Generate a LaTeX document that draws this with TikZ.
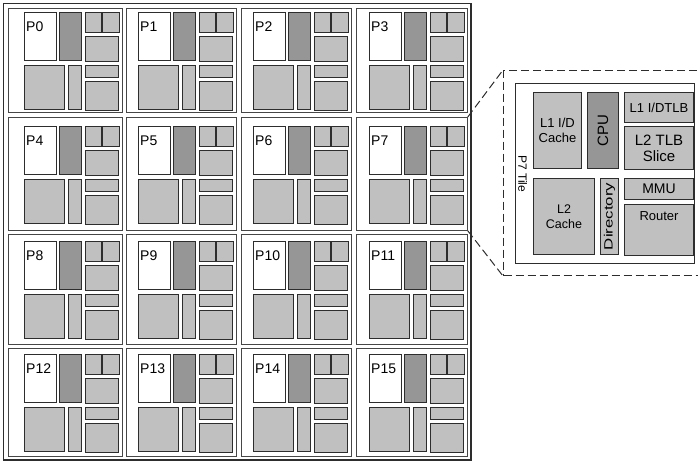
\documentclass[tikz,border=0pt]{standalone}
\usepackage{fontspec}
\setmainfont{Liberation Sans}
\usepackage{graphicx}
\usepackage{tikz}
\usetikzlibrary{positioning}
\definecolor{blockgray}{RGB}{192,192,192}
\definecolor{coregray}{RGB}{150,150,150}
\definecolor{edgegray}{RGB}{45,45,45}
\definecolor{framegray}{RGB}{70,70,70}

\begin{document}
\begin{tikzpicture}[x=1pt, y=-1pt,
    chip/.style={draw=edgegray, line width=1.5pt, inner sep=0pt, anchor=north west,
                 minimum width=467.5pt, minimum height=456.5pt},
    tile/.style={draw=framegray, line width=0.8pt, inner sep=0pt, anchor=north west},
    sz/.style 2 args={minimum width=#1pt, minimum height=#2pt},
    blk/.style={draw=edgegray, line width=1pt, fill=#1, inner sep=0pt, align=center},
    blk/.default=blockgray,
    core/.style={blk=coregray},
    plabel/.style={font=\fontsize{14}{16}\selectfont, inner sep=1pt},
    zoom/.style={draw=edgegray, line width=1pt, dash pattern=on 8pt off 4pt,
                 inner sep=0pt, anchor=north west},
    zoomline/.style={draw=edgegray, line width=1pt, dash pattern=on 8pt off 4pt},
    bigtile/.style={draw=edgegray, line width=1.2pt, fill=white, inner sep=0pt, anchor=north west}
]
\useasboundingbox (0,0) rectangle (698,461);

% ---- Chip with 16 tiles ----
\node[chip] (chip) at (2.5,2.5) {};
\foreach \n in {0,...,15}{
  \pgfmathsetmacro{\tx}{{8,126,241,356}[mod(\n,4)]}
  \pgfmathsetmacro{\tw}{{114,110,110,111}[mod(\n,4)]}
  \pgfmathsetmacro{\ty}{{8,117,234,348}[div(\n,4)]}
  \pgfmathsetmacro{\th}{{104,113,110,108}[div(\n,4)]}
  \pgfmathsetmacro{\ox}{\tw-98}
  \pgfmathsetmacro{\oy}{(\th-96)/2}
  \node[tile, minimum width=\tw pt, minimum height=\th pt] (t\n) at (\tx,\ty) {};
  \node[blk=white, sz={32}{48}, below right=\oy pt and \ox pt of t\n.north west] (w\n) {};
  \node[core, sz={22}{48}, right=2pt of w\n] (c\n) {};
  \node[blk, sz={16}{20}, below right=0pt and 3pt of c\n.north east] (a\n) {};
  \node[blk, sz={17}{20}, right=0pt of a\n] (b\n) {};
  \node[blk, sz={33}{25}, below right=3pt and 0pt of a\n.south west] (s\n) {};
  \node[blk, sz={40}{44}, below right=4pt and 0pt of w\n.south west] (l\n) {};
  \node[blk, sz={13}{44}, right=3pt of l\n] (d\n) {};
  \node[blk, sz={33}{12}, below right=4pt and 3pt of c\n.south east] (m\n) {};
  \node[blk, sz={33}{29}, below=3pt of m\n] (r\n) {};
  \node[plabel, below right=9pt and 1pt of w\n.north west] (p\n) {P\n};
}

% ---- P7 tile, enlarged (right side runs off the page) ----
\node[zoom, sz={210}{205}] (zb) at (503,70) {};
\draw[zoomline] (t7.north east) -- (zb.north west);
\draw[zoomline] (t7.south east) -- (zb.south west);

\node[bigtile, sz={179}{180}] (pt) at (515,83) {};
\node[rotate=-90, anchor=south, inner sep=1pt, font=\fontsize{12}{14}\selectfont]
     (ptl) at ([xshift=2pt]pt.west) {P7 Tile};
\node[blk, sz={48}{76}, below right=9pt and 18pt of pt.north west,
      font=\fontsize{13}{15.5}\selectfont] (l1) {L1 I/D\\Cache};
\node[core, sz={31}{76}, right=5pt of l1,
      font=\fontsize{15}{17}\selectfont] (cpu) {\rotatebox{90}{CPU}};
\node[blk, sz={69}{30}, below right=0pt and 5pt of cpu.north east,
      font=\fontsize{13}{15}\selectfont] (tlb1) {L1 I/DTLB};
\node[blk, sz={69}{43}, below=3pt of tlb1,
      font=\fontsize{15}{16}\selectfont] (tlb2) {L2 TLB\\Slice};
\node[blk, sz={61}{76}, below right=9pt and 0pt of l1.south west,
      font=\fontsize{12.5}{15}\selectfont] (l2) {L2\\Cache};
\node[blk, sz={18}{76}, right=5pt of l2,
      font=\fontsize{12}{14}\selectfont] (dir) {\rotatebox{90}{\scalebox{1.4}[1]{Directory}}};
\node[blk, sz={69}{21}, below right=9pt and 5pt of cpu.south east,
      font=\fontsize{14}{16}\selectfont] (mmu) {MMU};
\node[blk, sz={69}{51}, below=4pt of mmu] (rt) {};
\node[font=\fontsize{13}{15}\selectfont, below=6pt of rt.north, inner sep=1pt] (rtl) {Router};

\end{tikzpicture}
\end{document}
